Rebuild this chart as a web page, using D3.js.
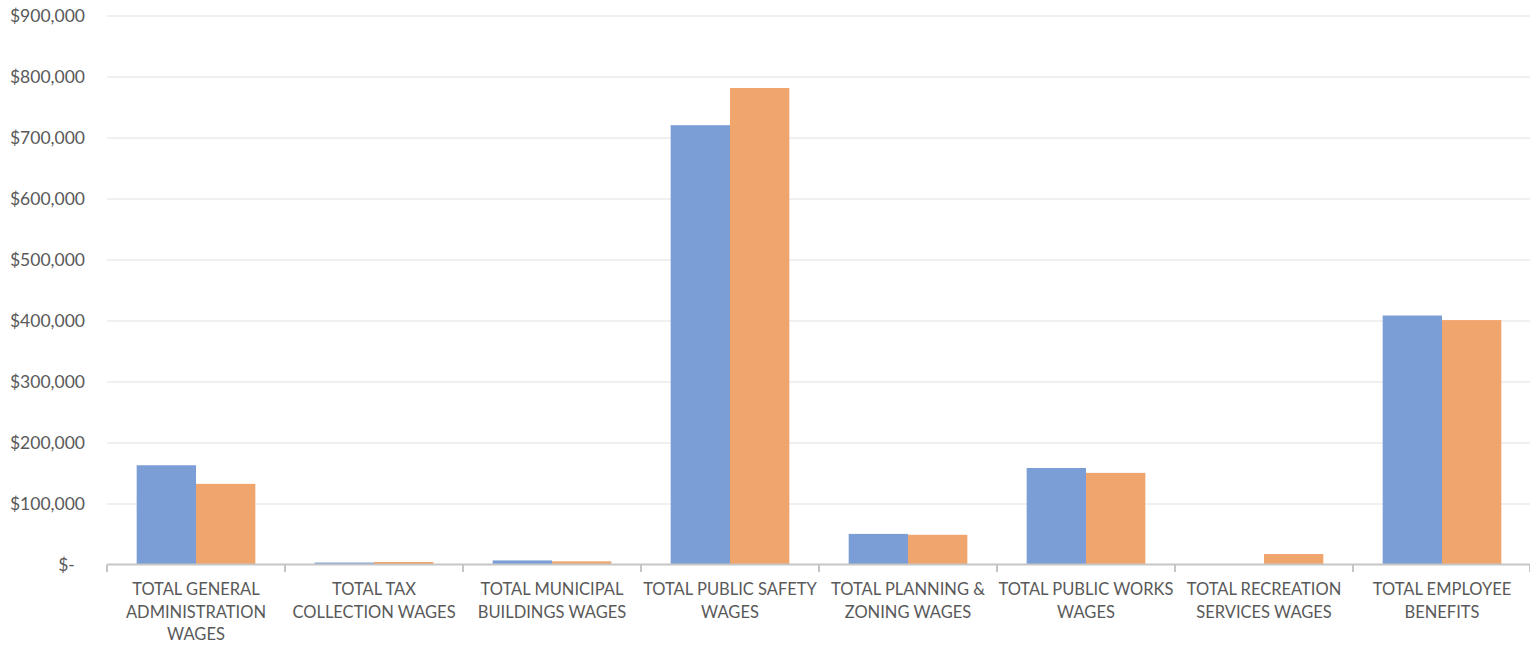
<!DOCTYPE html>
<html>
<head>
<meta charset="utf-8">
<script src="https://cdn.jsdelivr.net/npm/d3@7"></script>
<style>
  html, body { margin: 0; padding: 0; background: #fff; }
  svg { display: block; }
  text { font-family: Lato, "Open Sans", sans-serif; fill: #595959; }
</style>
</head>
<body>
<svg id="chart" width="1530" height="645"></svg>
<script>
const categories = [
  "TOTAL GENERAL ADMINISTRATION WAGES",
  "TOTAL TAX COLLECTION WAGES",
  "TOTAL MUNICIPAL BUILDINGS WAGES",
  "TOTAL PUBLIC SAFETY WAGES",
  "TOTAL PLANNING & ZONING WAGES",
  "TOTAL PUBLIC WORKS WAGES",
  "TOTAL RECREATION SERVICES WAGES",
  "TOTAL EMPLOYEE BENEFITS"
];
const categoryLines = [
  ["TOTAL GENERAL", "ADMINISTRATION", "WAGES"],
  ["TOTAL TAX", "COLLECTION WAGES"],
  ["TOTAL MUNICIPAL", "BUILDINGS WAGES"],
  ["TOTAL PUBLIC SAFETY", "WAGES"],
  ["TOTAL PLANNING &", "ZONING WAGES"],
  ["TOTAL PUBLIC WORKS", "WAGES"],
  ["TOTAL RECREATION", "SERVICES WAGES"],
  ["TOTAL EMPLOYEE", "BENEFITS"]
];
const seriesNames = ["Series 1", "Series 2"];
const series1 = [163500, 4000, 7500, 721000, 51000, 159000, 0, 409000];
const series2 = [133000, 5000, 6000, 782000, 49500, 151000, 18000, 401500];
const yTicks = [0, 100000, 200000, 300000, 400000, 500000, 600000, 700000, 800000, 900000];
const yTickLabels = ["$-\u2007", "$100,000", "$200,000", "$300,000", "$400,000", "$500,000", "$600,000", "$700,000", "$800,000", "$900,000"];
const colors = ["#7b9ed6", "#f0a56d"];

(function () {
const svg = d3.select("#chart");
const mLeft = 107, mRight = 1531, mTop = 16, mBottom = 565;

const x0 = d3.scaleBand().domain(categories).range([mLeft, mRight]).padding(0);
const x1 = d3.scaleBand().domain(seriesNames).range([0, x0.bandwidth()]).paddingInner(0).paddingOuter(0.5);
const y = d3.scaleLinear().domain([0, 900000]).range([mBottom, mTop]);

// gridlines
svg.append("g").selectAll("line").data(yTicks.filter(d => d > 0)).join("line")
  .attr("x1", mLeft).attr("x2", mRight - 1)
  .attr("y1", d => y(d)).attr("y2", d => y(d))
  .attr("stroke", "#ebebeb").attr("stroke-width", 1.3);

// y labels
svg.append("g").selectAll("text").data(yTicks).join("text")
  .attr("x", 85).attr("y", d => y(d)).attr("dy", "0.35em")
  .attr("text-anchor", "end").style("font-size", "17.5px")
  .style("white-space", "pre")
  .text((d, i) => yTickLabels[i]);

// bars
const data = categories.map((c, i) => ({ c, vals: [series1[i], series2[i]] }));
const groups = svg.append("g").selectAll("g").data(data).join("g")
  .attr("transform", d => `translate(${x0(d.c)},0)`);
groups.selectAll("rect").data(d => d.vals.map((v, j) => ({ v, s: seriesNames[j], j }))).join("rect")
  .attr("x", d => x1(d.s)).attr("width", x1.bandwidth())
  .attr("y", d => y(d.v)).attr("height", d => y(0) - y(d.v))
  .attr("fill", d => colors[d.j]);

// x axis line
svg.append("line").attr("x1", mLeft).attr("x2", mRight).attr("y1", y(0) - 0.5).attr("y2", y(0) - 0.5)
  .attr("stroke", "#c6c6c6").attr("stroke-width", 2);
const boundaries = categories.map(c => x0(c)).concat([mRight - 1]);
svg.append("g").selectAll("line").data(boundaries).join("line")
  .attr("x1", d => d).attr("x2", d => d)
  .attr("y1", y(0) - 0.5).attr("y2", y(0) + 7)
  .attr("stroke", "#c6c6c6").attr("stroke-width", 2);

// x labels
const lab = svg.append("g").selectAll("text").data(categories).join("text")
  .attr("text-anchor", "middle").style("font-size", "16.5px")
  .attr("x", d => x0(d) + x0.bandwidth() / 2).attr("y", 595);
lab.each(function(d, i) {
  const t = d3.select(this);
  categoryLines[i].forEach((ln, k) => {
    t.append("tspan").attr("x", x0(d) + x0.bandwidth() / 2).attr("y", 595 + k * 22.5).text(ln);
  });
});
})();
</script>
</body>
</html>
